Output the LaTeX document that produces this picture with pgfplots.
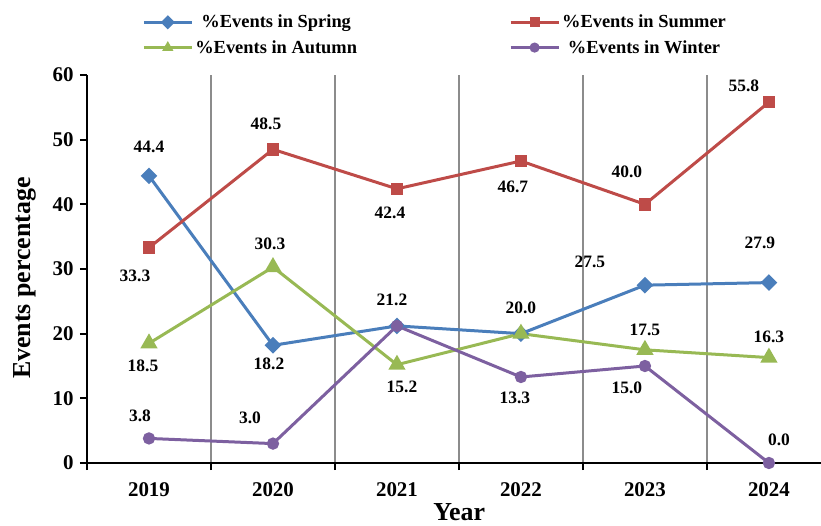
\documentclass[border=0pt]{standalone}
\usepackage{pgfplots}
\pgfplotsset{compat=1.18}
\usepackage{fontspec}
\setmainfont{Liberation Serif}

\definecolor{cspring}{HTML}{4A7EBB}
\definecolor{csummer}{HTML}{BE4B48}
\definecolor{cautumn}{HTML}{98B954}
\definecolor{cwinter}{HTML}{7D60A0}

\newcommand{\lblfont}{\bfseries\fontsize{17.5}{18}\selectfont}
% value label: x, y, shift right, shift down (px of the picture), text
\newcommand{\lab}[5]{\node[font=\lblfont, inner sep=0pt] at (axis cs:#1,#2) [xshift=#3bp, yshift=-#4bp] {#5};}

\begin{document}
\begin{tikzpicture}
\useasboundingbox (-87bp,-63bp) rectangle (734bp,463bp);
\begin{axis}[
    scale only axis,
    width=734bp, height=388bp,
    at={(0,0)}, anchor=south west,
    xmin=-0.5, xmax=5.42,
    ymin=0, ymax=60,
    axis x line=bottom, axis y line=left,
    axis line style={-, line width=2.2bp, black},
    tick align=outside,
    major tick length=7bp,
    tick style={line width=1.8bp, black},
    ytick={0,10,...,60},
    xtick={-0.5,0.5,...,4.5},
    xticklabels={},
    xmajorgrids,
    major grid style={line width=1.3bp, color=black!45},
    extra x ticks={0,1,2,3,4,5},
    extra x tick labels={2019,2020,2021,2022,2023,2024},
    extra x tick style={major tick length=0pt, grid=none,
        xticklabel style={yshift=-16bp}},
    ticklabel style={font=\bfseries\fontsize{21}{21}\selectfont},
    yticklabel style={xshift=-3bp},
    /pgf/number format/assume math mode=true,
    ylabel={Events percentage},
    xlabel={Year},
    label style={font=\bfseries\fontsize{26}{26}\selectfont},
    ylabel style={at={(axis description cs:-0.0845,0.477)}, anchor=center},
    xlabel style={at={(axis description cs:0.507,-0.126)}, anchor=center},
    clip=false,
    legend columns=2,
    legend style={draw=none, fill=none, at={(axis description cs:0.071,1.165)}, anchor=north west,
        font=\bfseries\fontsize{18.5}{19}\selectfont,
        /tikz/every even column/.append style={column sep=150bp},
        row sep=7bp},
    legend image code/.code={\draw[mark repeat=2, mark phase=2, #1, mark size=3.5bp]
        plot coordinates {(0bp,0bp) (24bp,0bp) (48bp,0bp)};},
    every axis plot/.append style={line width=3bp},
]
\addplot[color=cspring, mark=square*, mark size=4.4bp, mark options={rotate=45}]
    coordinates {(0,44.4) (1,18.2) (2,21.2) (3,20.0) (4,27.5) (5,27.9)};
\addlegendentry{\%Events in Spring}
\addplot[color=csummer, mark=square*, mark size=4.8bp]
    coordinates {(0,33.3) (1,48.5) (2,42.4) (3,46.7) (4,40.0) (5,55.8)};
\addlegendentry{\%Events in Summer}
\addplot[color=cautumn, mark=triangle*, mark size=7bp]
    coordinates {(0,18.5) (1,30.3) (2,15.2) (3,20.0) (4,17.5) (5,16.3)};
\addlegendentry{\%Events in Autumn}
\addplot[color=cwinter, mark=*, mark size=4.6bp]
    coordinates {(0,3.8) (1,3.0) (2,21.2) (3,13.3) (4,15.0) (5,0.0)};
\addlegendentry{\%Events in Winter}

% Spring
\lab{0}{44.4}{0}{-29}{44.4}
\lab{1}{18.2}{-4}{19}{18.2}
\lab{2}{21.2}{-5}{-26}{21.2}
\lab{3}{20.0}{0}{-26}{20.0}
\lab{4}{27.5}{-55}{-23}{27.5}
\lab{5}{27.9}{-9}{-40}{27.9}
% Summer
\lab{0}{33.3}{-14}{28}{33.3}
\lab{1}{48.5}{-7}{-26}{48.5}
\lab{2}{42.4}{-7}{24}{42.4}
\lab{3}{46.7}{-8}{26}{46.7}
\lab{4}{40.0}{-18}{-33}{40.0}
\lab{5}{55.8}{-25}{-16}{55.8}
% Autumn
\lab{0}{18.5}{-6}{22}{18.5}
\lab{1}{30.3}{-3}{-23}{30.3}
\lab{2}{15.2}{5}{22}{15.2}
\lab{4}{17.5}{0}{-20}{17.5}
\lab{5}{16.3}{0}{-21}{16.3}
% Winter
\lab{0}{3.8}{-9}{-23}{3.8}
\lab{1}{3.0}{-23}{-26}{3.0}
\lab{3}{13.3}{-6}{21}{13.3}
\lab{4}{15.0}{-18}{22}{15.0}
\lab{5}{0.0}{10}{-23}{0.0}
\end{axis}
\end{tikzpicture}
\end{document}
